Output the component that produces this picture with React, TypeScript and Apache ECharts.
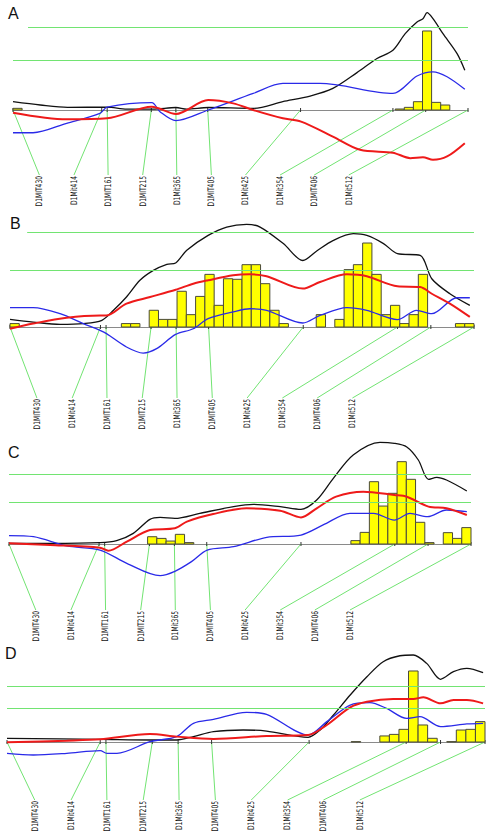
import React, { useEffect, useRef } from "react";
import * as echarts from "echarts";

// ---------- data ----------
const PANEL_NAMES = ["A", "B", "C", "D"];
const MARKERS = ["D1MIT430", "D1Mit414", "D1MIT161", "D1MIT215", "D1Mit365", "D1MIT405", "D1Mit425", "D1Mit354", "D1MIT406", "D1Mit512"];
const MARKER_CM = [0, 19.5, 20.7, 30.4, 35.8, 42.8, 63.2, 83.5, 90.7, 100];
const LABEL_SLOT_CM = [5.8, 13.4, 20.9, 28.5, 36.0, 43.6, 51.1, 58.7, 66.2, 73.8];
const THRESHOLDS = [3, 5];
const BIN_WIDTH = 2;

const A_BLACK = [[0,0.5],[6,0.3],[12,0.16],[20.7,0.17],[25,0.05],[30.8,0.05],[35.8,0.15],[38.2,0.05],[42.9,0.15],[52.8,0.1],[59.3,0.5],[65.3,0.84],[70.3,1.3],[75.6,2.25],[80,3.1],[83.5,3.6],[86.2,4.6],[88.8,5.3],[90.1,5.5],[91,5.86],[92.3,5.5],[94.5,4.6],[97.6,3.4],[99.3,2.4]];
const A_BLUE = [[0,-1.37],[4.4,-1.37],[11.8,-0.8],[19.1,-0.2],[20.7,0.17],[30.5,0.44],[32.3,-0.1],[35.8,-0.64],[42.9,0],[52.8,1.0],[59.3,1.6],[67.5,1.6],[83.5,1.0],[88.8,2.05],[92.3,2.3],[95.4,2.0],[99.3,1.25]];
const A_RED = [[0,-0.16],[11.8,-0.56],[20.7,-0.5],[30.5,0.2],[35.8,-0.24],[42.9,0.6],[48.4,0.4],[52.8,0],[59.3,-0.5],[63.3,-0.7],[70.3,-1.6],[76.3,-2.4],[83.5,-2.57],[87.3,-2.9],[90.1,-2.85],[92.3,-3.0],[95.4,-2.8],[99.3,-2.0]];
const A_BARS = [[1,0.1],[85,0.06],[87,0.16],[89,0.5],[91,4.76],[93,0.46],[95,0.3]];

const B_BLACK = [[0,0.4],[5,0.26],[10.8,0.14],[15.8,0.18],[19.8,0.35],[22.3,0.88],[25.1,1.58],[28,2.46],[30.9,2.98],[33.8,3.3],[35.7,3.37],[38.1,4.04],[42.7,4.82],[46.7,5.26],[51,5.4],[53.9,5.26],[58.9,4.39],[63.1,3.5],[66.1,4.0],[69.7,4.56],[74,4.91],[76.9,4.82],[80.5,4.39],[83.5,3.86],[88.4,3.77],[90.9,2.54],[94.8,1.75],[99.1,1.14]];
const B_BLUE = [[0,1.02],[5,1.02],[10.8,0.7],[15.8,0.18],[19.4,-0.18],[20.8,-0.35],[25.1,-1.05],[28.7,-1.37],[31.6,-1.14],[35.7,-0.39],[39.5,-0.09],[42.7,0.44],[48.1,0.79],[51.7,0.96],[55.3,0.88],[63.1,0.21],[66.8,0.61],[72.6,1.02],[76.9,0.88],[83.5,0.39],[87.6,0.88],[90.9,0.7],[96.3,1.54],[99.1,1.54]];
const B_RED = [[0,-0.09],[5,0.18],[12.2,0.49],[19.4,0.61],[20.8,0.61],[25.1,1.23],[30.2,1.58],[35.7,1.96],[39.5,2.28],[42.7,2.46],[48.1,2.72],[51.7,2.77],[55.3,2.67],[63.1,2.02],[66.8,2.37],[72.6,2.77],[76.9,2.67],[83.5,2.14],[88.4,2.1],[90.9,1.75],[94.8,1.23],[99.1,0.53]];
const B_BARS = [[1,0.18],[25,0.18],[27,0.18],[31,0.88],[33,0.4],[35,0.4],[37,1.88],[39,0.65],[41,1.61],[43,2.77],[45,1.14],[47,2.54],[49,2.51],[51,3.28],[53,3.28],[55,2.28],[57,0.88],[59,0.18],[67,0.65],[71,0.4],[73,3.02],[75,3.28],[77,4.42],[79,2.77],[81,0.65],[83,1.14],[85,0.18],[87,0.65],[89,2.77],[97,0.18],[99,0.18]];

const C_BLACK = [[0,0.05],[8.9,0.05],[19.7,0.1],[23.3,0.24],[26.9,0.76],[30.5,1.76],[32.7,1.9],[35.9,1.83],[41.3,2.19],[48.6,2.67],[52.9,2.83],[58.7,2.67],[63.2,2.48],[66.6,3.14],[70.2,4.69],[74.5,6.36],[80.3,7.26],[83.4,7.19],[86.1,6.93],[88.6,6.0],[90.8,4.62],[92.6,4.76],[94.7,4.57],[99.1,3.79]];
const C_BLUE = [[0,0.6],[5.3,0.52],[12.5,-0.14],[19.7,-0.43],[25.5,-1.38],[32.7,-2.26],[35.9,-1.95],[39.5,-1.26],[42.9,-0.43],[48.6,-0.19],[55.8,0.48],[63.2,0.64],[68,1.36],[73.8,2.19],[78.9,2.19],[83.4,1.71],[86.8,2.19],[90.6,1.95],[94.7,2.43],[99.1,2.31]];
const C_RED = [[0,0.05],[8.9,-0.07],[19.7,-0.26],[21.5,-0.48],[25.5,0.17],[30.5,1.0],[35.9,1.12],[38.5,1.6],[44.2,2.14],[51.4,2.55],[58.7,2.38],[63.2,1.9],[66.6,2.55],[70.8,3.38],[76.7,3.74],[83.4,3.5],[86.1,3.38],[90.8,2.67],[94.7,2.55],[99.1,2.07]];
const C_BARS = [[31,0.52],[33,0.4],[35,0.21],[37,0.69],[39,0.1],[75,0.24],[77,0.83],[79,4.45],[81,2.71],[83,3.62],[85,5.88],[87,4.62],[89,1.55],[91,0.1],[95,0.81],[97,0.4],[99,1.17]];

const D_BLACK = [[0,0.33],[19.5,0.24],[29.9,0.18],[35.5,0.18],[39,0.48],[43.2,0.92],[49.4,1.07],[54.3,0.98],[63,0.42],[65.5,1.07],[68.3,2.41],[71.8,4.2],[75.3,5.83],[78.7,7.17],[82.2,7.7],[85,7.77],[87.8,7.02],[90.7,5.6],[93.4,6.28],[96.2,6.58],[99.6,6.19]];
const D_BLUE = [[0,-1.01],[5.5,-1.16],[12.5,-1.01],[19.5,-0.77],[20.9,-1.01],[23,-1.01],[29.9,0.03],[35.5,0.48],[39,1.67],[43.2,2.02],[50.1,2.65],[54.3,2.47],[63,0.63],[66.9,1.82],[71.8,3.3],[75.9,3.51],[79.4,3.0],[83.6,2.11],[86.4,2.26],[90.7,1.37],[96.2,1.61],[99.6,1.67]];
const D_RED = [[0,-0.03],[12.5,0.12],[19.5,0.24],[29.9,0.71],[35.5,0.48],[43.2,0.27],[54.3,0.54],[63,0.63],[66.9,1.52],[71.8,3.1],[75.3,3.6],[80.8,3.84],[85,3.84],[87.1,3.99],[90.7,3.45],[93.4,3.75],[96.2,3.75],[99.6,3.45]];
const D_BARS = [[73,0.03],[79,0.54],[81,0.68],[83,1.13],[85,6.34],[87,1.52],[89,0.33],[93,0.03],[95,1.07],[97,1.13],[99,1.82]];

const PANEL_DATA = [
  { black: A_BLACK, blue: A_BLUE, red: A_RED, bars: A_BARS },
  { black: B_BLACK, blue: B_BLUE, red: B_RED, bars: B_BARS },
  { black: C_BLACK, blue: C_BLUE, red: C_RED, bars: C_BARS },
  { black: D_BLACK, blue: D_BLUE, red: D_RED, bars: D_BARS },
];

// ---------- layout / style ----------
// thrStart: where each threshold line begins (cM), for the low and high threshold
const LAYOUT = [
  { left: 13, width: 455, top: 10.4, height: 166, yMin: -4, yMax: 6, drop: 65, letter: [8, 5], thrStart: [0, 3.3] },
  { left: 10, width: 464, top: 213, height: 152, yMin: -2, yMax: 6, drop: 71, letter: [10, 215], thrStart: [0, 3.7] },
  { left: 9, width: 462, top: 432, height: 154, yMin: -3, yMax: 8, drop: 66, letter: [8, 444], thrStart: [0, 0] },
  { left: 7, width: 478, top: 652.4, height: 112, yMin: -2, yMax: 8, drop: 58, letter: [5, 645], thrStart: [0, 0] },
];
const GREEN = "#72e472";
const LABEL_FONT = "9px 'DejaVu Sans Condensed', 'Liberation Sans Narrow', sans-serif";
const LABEL_SQUEEZE = 0.74;

function buildOption() {
  const grid: any[] = [];
  const xAxis: any[] = [];
  const yAxis: any[] = [];
  const series: any[] = [];
  const graphic: any[] = [];

  LAYOUT.forEach((L, i) => {
    const d = PANEL_DATA[i];
    grid.push({ left: L.left, top: L.top, width: L.width, height: L.height, containLabel: false });
    xAxis.push({
      gridIndex: i, type: "value", min: 0, max: 100,
      axisLine: { show: true, onZero: true, lineStyle: { color: "#8a8a8a", width: 1 } },
      axisTick: { show: false }, axisLabel: { show: false }, splitLine: { show: false },
    });
    yAxis.push({
      gridIndex: i, type: "value", min: L.yMin, max: L.yMax,
      axisLine: { show: false }, axisTick: { show: false }, axisLabel: { show: false }, splitLine: { show: false },
    });

    // marker connectors + labels
    series.push({
      type: "custom", xAxisIndex: i, yAxisIndex: i, z: 1, silent: true, clip: false,
      encode: { x: 0, y: 2 },
      data: MARKER_CM.map((m, k) => [m, LABEL_SLOT_CM[k], 0, k]),
      renderItem: (params: any, api: any) => {
        const m = api.value(0);
        const slot = api.value(1);
        const k = api.value(3);
        const p = api.coord([m, 0]);
        const q = api.coord([slot, 0]);
        const y2 = p[1] + L.drop;
        return {
          type: "group",
          children: [
            { type: "line", shape: { x1: p[0], y1: p[1], x2: q[0], y2 }, style: { stroke: GREEN, lineWidth: 1 } },
            { type: "line", shape: { x1: p[0], y1: p[1] - 2, x2: p[0], y2: p[1] + 2 }, style: { stroke: "#333", lineWidth: 1 } },
            {
              type: "text", x: q[0], y: y2 + 1, rotation: Math.PI / 2, scaleX: LABEL_SQUEEZE, scaleY: 1,
              style: { text: MARKERS[k], fill: "#111", font: LABEL_FONT, align: "right", verticalAlign: "middle" },
            },
          ],
        };
      },
    });

    // histogram bars
    series.push({
      type: "custom", xAxisIndex: i, yAxisIndex: i, z: 2, silent: true,
      data: d.bars,
      renderItem: (params: any, api: any) => {
        const x = api.value(0);
        const h = api.value(1);
        const tl = api.coord([x - BIN_WIDTH / 2, h]);
        const br = api.coord([x + BIN_WIDTH / 2, 0]);
        return {
          type: "rect",
          shape: { x: tl[0], y: tl[1], width: br[0] - tl[0], height: br[1] - tl[1] },
          style: { fill: "#ffff00", stroke: "#4a4a3a", lineWidth: 1 },
        };
      },
    });

    const lineBase = { type: "line", xAxisIndex: i, yAxisIndex: i, showSymbol: false, smooth: 0.3, silent: true, z: 3 };
    series.push({
      ...lineBase, data: d.black, lineStyle: { color: "#111", width: 1.3 },
      markLine: {
        silent: true, symbol: "none", label: { show: false }, animation: false,
        lineStyle: { color: GREEN, type: "solid", width: 1 },
        data: THRESHOLDS.map((v, t) => [{ coord: [L.thrStart[t], v] }, { coord: [100, v] }]),
      },
    });
    series.push({ ...lineBase, data: d.blue, lineStyle: { color: "#2a2ae8", width: 1.3 } });
    series.push({ ...lineBase, data: d.red, lineStyle: { color: "#ee1a1a", width: 2 } });

    graphic.push({
      type: "text", left: L.letter[0], top: L.letter[1],
      style: { text: PANEL_NAMES[i], fill: "#111", font: "16px 'Liberation Sans', Arial, sans-serif" },
    });
  });

  return { animation: false, backgroundColor: "#ffffff", grid, xAxis, yAxis, series, graphic };
}

export default function App() {
  const ref = useRef<HTMLDivElement>(null);
  useEffect(() => {
    if (!ref.current) return;
    const chart = echarts.init(ref.current, null, { renderer: "svg" });
    chart.setOption(buildOption() as any);
    return () => chart.dispose();
  }, []);
  return <div ref={ref} style={{ position: "absolute", left: 0, top: 0, width: 493, height: 832 }} />;
}
